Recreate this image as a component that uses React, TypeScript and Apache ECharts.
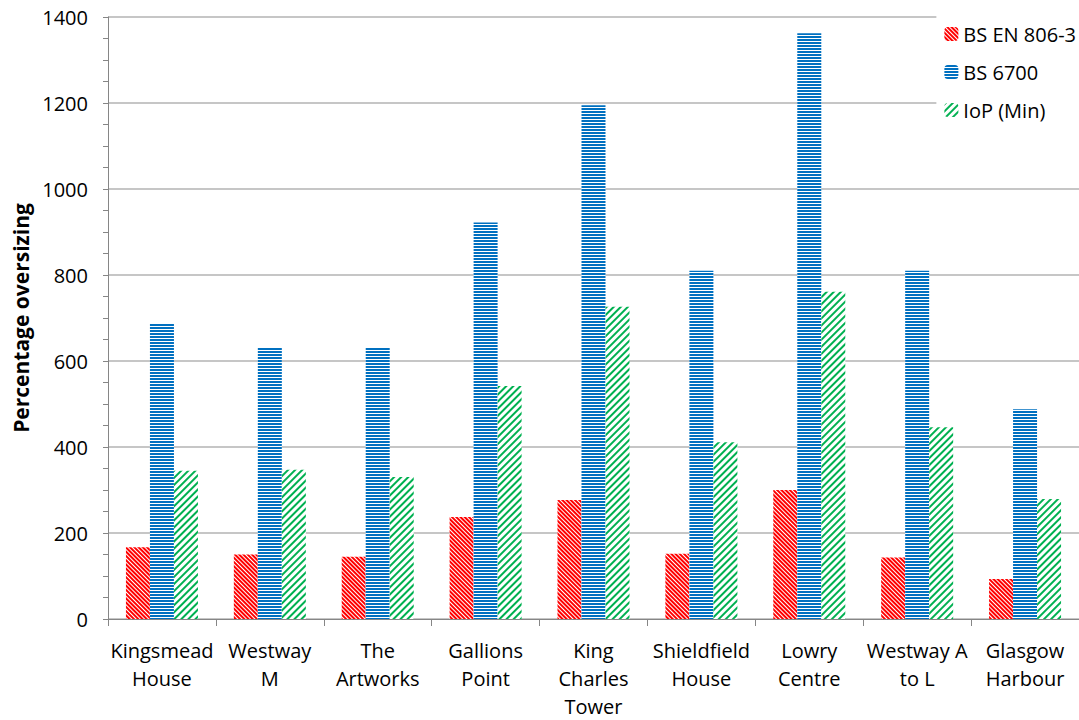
import React, { useEffect, useRef } from "react";
import * as echarts from "echarts";

const categories = [
  "Kingsmead\nHouse",
  "Westway\nM",
  "The\nArtworks",
  "Gallions\nPoint",
  "King\nCharles\nTower",
  "Shieldfield\nHouse",
  "Lowry\nCentre",
  "Westway A\nto L",
  "Glasgow\nHarbour",
];
const bsEn8063 = [167, 150, 145, 237, 277, 152, 300, 143, 93];
const bs6700 = [688, 630, 630, 922, 1195, 810, 1362, 810, 488];
const iopMin = [345, 347, 330, 542, 726, 411, 761, 446, 279];

const seriesNames = ["BS EN 806-3", "BS 6700", "IoP (Min)"];
const yTicks = { min: 0, max: 1400, interval: 200 };

const FONT = "'Open Sans', sans-serif";

export default function App() {
  const ref = useRef<HTMLDivElement>(null);
  useEffect(() => {
    if (!ref.current) return;
    const chart = echarts.init(ref.current, undefined, { renderer: "svg" });
    chart.setOption({
      animation: false,
      backgroundColor: "#ffffff",
      grid: { left: 108, right: 0, top: 17, bottom: 100, containLabel: false },
      legend: {
        orient: "vertical",
        right: 0,
        top: 12,
        padding: [12, 3, 12, 8],
        backgroundColor: "#ffffff",
        itemWidth: 14,
        itemHeight: 14,
        itemGap: 18,
        textStyle: { fontSize: 20, fontFamily: FONT, color: "#000" },
        data: seriesNames,
      },
      xAxis: {
        type: "category",
        data: categories,
        axisLine: { lineStyle: { color: "#868686", width: 1 } },
        axisTick: { show: true, length: 7, lineStyle: { color: "#868686" } },
        axisLabel: {
          fontSize: 20,
          fontFamily: FONT,
          color: "#000",
          lineHeight: 28,
          margin: 17,
          interval: 0,
        },
      },
      yAxis: {
        type: "value",
        min: yTicks.min,
        max: yTicks.max,
        interval: yTicks.interval,
        name: "Percentage oversizing",
        nameLocation: "middle",
        nameGap: 76,
        nameRotate: 90,
        nameTextStyle: { fontSize: 21, fontWeight: "bold", fontFamily: FONT, color: "#000" },
        axisLine: { show: true, lineStyle: { color: "#868686", width: 1 } },
        axisTick: { show: true, length: 5, lineStyle: { color: "#868686" } },
        minorTick: { show: true, splitNumber: 4, length: 5, lineStyle: { color: "#868686" } },
        splitLine: { show: true, lineStyle: { color: "#b3b3b3", width: 1.5 } },
        axisLabel: {
          fontSize: 20,
          fontFamily: FONT,
          color: "#000",
          margin: 20,
          formatter: (v: number) => String(v),
        },
      },
      series: [
        {
          name: seriesNames[0],
          type: "bar",
          data: bsEn8063,
          barWidth: 24,
          barGap: "0%",
          itemStyle: {
            color: "#ffffff",
            decal: {
              symbol: "rect",
              symbolSize: 1,
              color: "#ff0000",
              dashArrayX: [1, 0],
              dashArrayY: [2, 1],
              rotation: Math.PI / 4,
            },
          },
        },
        {
          name: seriesNames[1],
          type: "bar",
          data: bs6700,
          barWidth: 24,
          barGap: "0%",
          itemStyle: {
            color: "#ffffff",
            decal: {
              symbol: "rect",
              symbolSize: 1,
              color: "#0070c0",
              dashArrayX: [1, 0],
              dashArrayY: [2, 1],
              rotation: 0,
            },
          },
        },
        {
          name: seriesNames[2],
          type: "bar",
          data: iopMin,
          barWidth: 24,
          barGap: "0%",
          itemStyle: {
            color: "#ffffff",
            decal: {
              symbol: "rect",
              symbolSize: 1,
              color: "#00b050",
              dashArrayX: [1, 0],
              dashArrayY: [2, 3],
              rotation: -Math.PI / 4,
            },
          },
        },
      ],
    });
    return () => chart.dispose();
  }, []);
  return (
    <div
      ref={ref}
      style={{ position: "absolute", left: 0, top: 0, width: 1079, height: 720, background: "#fff" }}
    />
  );
}
